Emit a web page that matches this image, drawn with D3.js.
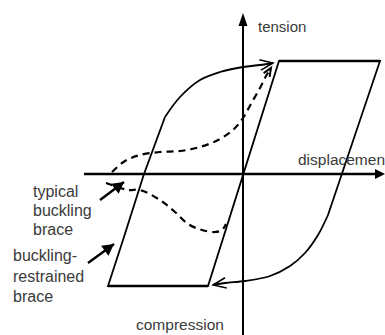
<!DOCTYPE html>
<html lang="en">
<head>
<meta charset="UTF-8">
<title>Buckling-restrained vs typical buckling brace</title>
<script src="https://d3js.org/d3.v7.min.js"></script>
<style>
  body {
    margin: 0;
    background: #fff;
  }
  svg text {
    font-family: "Liberation Sans", Arial, sans-serif;
    fill: #3a3a3a;
  }
</style>
</head>
<body>
<div id="chart"></div>

<script>
// ------ data: [displacement, force], 1 unit = yield-ish scale of the sketch ------

// buckling-restrained brace: parallelogram loop (open at two corners)
const brbLoop = [
  [-0.78, 0.57], [-0.99, 0.00], [-1.20, -0.66], [-1.35, -1.12],
  [-0.35, -1.12], [0.36, 1.13], [1.37, 1.13], [0.85, -0.41]
];
// curved arrows closing the BRB loop
const brbLoadUp = [
  [-0.78, 0.57], [-0.63, 0.77], [-0.43, 0.94], [-0.23, 1.02],
  [0.00, 1.07], [0.17, 1.09], [0.30, 1.11]
];
const brbLoadDown = [
  [0.85, -0.41], [0.75, -0.61], [0.62, -0.79], [0.47, -0.92],
  [0.27, -1.02], [0.02, -1.07], [-0.18, -1.09], [-0.30, -1.11]
];

// typical buckling brace (dashed)
const bucklingUpper = [
  [-1.31, 0.02], [-1.18, 0.13], [-1.03, 0.19], [-0.83, 0.22], [-0.63, 0.23],
  [-0.43, 0.27], [-0.25, 0.34], [-0.10, 0.44], [0.00, 0.56], [0.09, 0.72],
  [0.17, 0.86], [0.23, 0.98], [0.28, 1.06]
];
const bucklingLower = [
  [-1.37, -0.09], [-1.15, -0.16], [-1.03, -0.16], [-0.83, -0.26], [-0.68, -0.38],
  [-0.55, -0.50], [-0.41, -0.56], [-0.28, -0.58], [-0.21, -0.56], [-0.17, -0.50]
];

// pointer arrows for the labels
const pointers = [
  { from: [-1.43, -0.26], to: [-1.19, -0.08] },
  { from: [-1.55, -0.89], to: [-1.29, -0.70] }
];

const axisLabels = ["tension", "displacement", "compression"];
const typicalLabel = ["typical", "buckling", "brace"];
const brbLabel = ["buckling-", "restrained", "brace"];

// ------ chart ------

const width = 385;
const height = 335;

const x = d3.scaleLinear().domain([-1.59, 1.42]).range([84, 385]);
const y = d3.scaleLinear().domain([1.61, -1.61]).range([13, 335]);

const svg = d3.select("#chart")
  .append("svg")
    .attr("width", width)
    .attr("height", height);

const straight = d3.line().x(d => x(d[0])).y(d => y(d[1]));
const smooth = d3.line().x(d => x(d[0])).y(d => y(d[1])).curve(d3.curveCatmullRom.alpha(0.5));

// axes
svg.append("line")
  .attr("x1", x(-1.59)).attr("x2", x(1.42) - 8)
  .attr("y1", y(0)).attr("y2", y(0))
  .attr("stroke", "#000").attr("stroke-width", 2.6);
svg.append("path")
  .attr("d", `M${x(1.42)},${y(0)} L${x(1.42) - 10},${y(0) - 5} L${x(1.42) - 10},${y(0) + 5} Z`)
  .attr("fill", "#000");

svg.append("line")
  .attr("x1", x(0)).attr("x2", x(0))
  .attr("y1", y(1.61) + 8).attr("y2", y(-1.61))
  .attr("stroke", "#000").attr("stroke-width", 2);
svg.append("path")
  .attr("d", `M${x(0)},${y(1.61)} L${x(0) - 4.5},${y(1.61) + 13} L${x(0) + 4.5},${y(1.61) + 13} Z`)
  .attr("fill", "#000");

// BRB loop
svg.append("path")
  .attr("d", straight(brbLoop))
  .attr("fill", "none")
  .attr("stroke", "#000")
  .attr("stroke-width", 1.8)
  .attr("stroke-linejoin", "miter");

// thicker horizontal edges
[[brbLoop[3], brbLoop[4]], [brbLoop[5], brbLoop[6]]].forEach(seg => {
  svg.append("path")
    .attr("d", straight(seg))
    .attr("stroke", "#000")
    .attr("stroke-width", 2.4);
});

function openHead(pts, len, spread) {
  const a = pts[pts.length - 1], b = pts[pts.length - 2];
  const tx = x(a[0]), ty = y(a[1]);
  const ang = Math.atan2(ty - y(b[1]), tx - x(b[0]));
  const p1 = [tx - len * Math.cos(ang - spread), ty - len * Math.sin(ang - spread)];
  const p2 = [tx - len * Math.cos(ang + spread), ty - len * Math.sin(ang + spread)];
  return `M${p1[0]},${p1[1]} L${tx},${ty} L${p2[0]},${p2[1]}`;
}

function filledHead(from, to, len, half) {
  const tx = x(to[0]), ty = y(to[1]);
  const ang = Math.atan2(ty - y(from[1]), tx - x(from[0]));
  const p1 = [tx - len * Math.cos(ang - half), ty - len * Math.sin(ang - half)];
  const p2 = [tx - len * Math.cos(ang + half), ty - len * Math.sin(ang + half)];
  return `M${tx},${ty} L${p1[0]},${p1[1]} L${p2[0]},${p2[1]} Z`;
}

[brbLoadUp, brbLoadDown].forEach(pts => {
  svg.append("path")
    .attr("d", smooth(pts))
    .attr("fill", "none")
    .attr("stroke", "#000")
    .attr("stroke-width", 1.8);
  svg.append("path")
    .attr("d", openHead(pts, 14, 0.38))
    .attr("fill", "none")
    .attr("stroke", "#000")
    .attr("stroke-width", 1.5);
});

// typical buckling brace (dashed)
[bucklingUpper, bucklingLower].forEach(pts => {
  svg.append("path")
    .attr("d", smooth(pts))
    .attr("fill", "none")
    .attr("stroke", "#000")
    .attr("stroke-width", 2.2)
    .attr("stroke-dasharray", "7,5");
});
svg.append("path")
  .attr("d", openHead(bucklingUpper, 9, 0.4))
  .attr("fill", "none")
  .attr("stroke", "#000")
  .attr("stroke-width", 2);

// label pointers
pointers.forEach(p => {
  svg.append("line")
    .attr("x1", x(p.from[0])).attr("y1", y(p.from[1]))
    .attr("x2", x(p.to[0])).attr("y2", y(p.to[1]))
    .attr("stroke", "#000").attr("stroke-width", 2.4);
  svg.append("path")
    .attr("d", filledHead(p.from, p.to, 13, 0.5))
    .attr("fill", "#000");
});

// texts
svg.append("text").attr("x", 258).attr("y", 32).style("font-size", "15px").text(axisLabels[0]);
svg.append("text").attr("x", 298).attr("y", 165).style("font-size", "15.5px").text(axisLabels[1]);
svg.append("text").attr("x", 136).attr("y", 330).style("font-size", "15.5px").text(axisLabels[2]);

svg.append("g")
  .selectAll("text")
  .data(typicalLabel)
  .join("text")
    .attr("x", 33)
    .attr("y", (d, i) => 197 + i * 19)
    .style("font-size", "16px")
    .text(d => d);

svg.append("g")
  .selectAll("text")
  .data(brbLabel)
  .join("text")
    .attr("x", 13)
    .attr("y", (d, i) => 261 + i * 20.5)
    .style("font-size", "16px")
    .text(d => d);
</script>

</body>
</html>
